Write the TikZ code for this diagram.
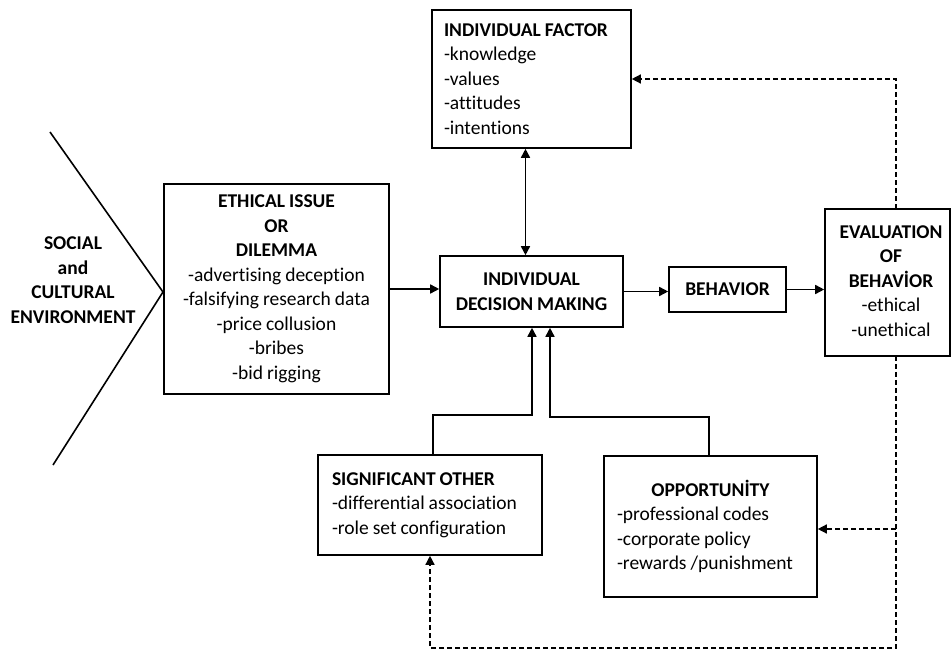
\documentclass[tikz,border=0pt]{standalone}
\usepackage{fontspec}
\setmainfont{Carlito}[Ligatures={NoCommon,NoRare,NoDiscretionary},WordSpace={0.9}]
\usetikzlibrary{arrows.meta}
\begin{document}
\begin{tikzpicture}[x=1pt,y=-1pt,
  every node/.style={font=\fontsize{19.5}{24.5}\selectfont},
  box/.style={draw, line width=1.6pt, inner sep=0pt},
  conn/.style={line width=1.6pt, -{Triangle[length=9pt,width=9pt]}},
  both/.style={line width=1.6pt, {Triangle[length=9pt,width=9pt]}-{Triangle[length=9pt,width=9pt]}},
  feedback/.style={line width=1.4pt, dash pattern=on 5pt off 3pt, -{Triangle[length=9pt,width=9pt]}},
  plain/.style={line width=1.6pt}]
\useasboundingbox (0,0) rectangle (951,652);

% environment chevron
\coordinate (envtop) at (50,132);
\coordinate (envtip) at (163,292);
\coordinate (envbot) at (53,465);
\draw[plain] (envtop) -- (envtip) -- (envbot);
\node[align=center] (env) at (73,280) {\textbf{SOCIAL}\\\textbf{and}\\\textbf{CULTURAL}\\\textbf{ENVIRONMENT}};

% boxes
\node[box, minimum width=225, minimum height=210, align=center] (issue) at (276.5,289)
  {\textbf{ETHICAL ISSUE}\\\textbf{OR}\\\textbf{DILEMMA}\\-advertising deception\\-falsifying research data\\-price collusion\\-bribes\\-bid rigging};

\node[box, minimum width=199, minimum height=138, text width=175, align=flush left] (indiv) at (531.5,79)
  {\textbf{INDIVIDUAL FACTOR}\\-knowledge\\-values\\-attitudes\\-intentions};

\node[box, minimum width=183, minimum height=71, align=center] (dm) at (531.5,291.5)
  {\textbf{INDIVIDUAL}\\\textbf{DECISION MAKING}};

\node[box, minimum width=117, minimum height=45] (beh) at (727.5,289.5) {\textbf{BEHAVIOR}};

\node[box, minimum width=125, minimum height=147] (eval) at (887.5,282.5) {};
\node[align=center] (evaltext) at (891,281)
  {\textbf{EVALUATION}\\\textbf{OF}\\\textbf{BEHAVİOR}\\-ethical\\-unethical};

\node[box, minimum width=224, minimum height=100, text width=196, align=flush left] (sig) at (430,505)
  {\textbf{SIGNIFICANT OTHER}\\-differential association\\-role set configuration};

\node[box, minimum width=213, minimum height=141, text width=187, align=flush left] (opp) at (710.5,526.5)
  {\makebox[\linewidth]{\textbf{OPPORTUNİTY}}\\-professional codes\\-corporate policy\\-rewards /punishment};

% main flow
\draw[conn] (issue.east) -- (issue.east -| dm.west);
\draw[conn] (dm.east) -- (dm.east -| beh.west);
\draw[conn] (beh.east) -- (beh.east -| eval.west);
\draw[both] ([xshift=-6pt]indiv.south) -- ([xshift=-6pt]dm.north);

% influences from below
\draw[conn] ([xshift=3pt]sig.north) -- ++(0,-39) -| ([xshift=0.5pt]dm.south);
\draw[conn] ([xshift=-1.5pt]opp.north) -- ++(0,-38) -| ([xshift=18.5pt]dm.south);

% feedback loops
\coordinate (railtop) at (896,209);
\coordinate (railbot) at (896,356);
\coordinate (railopp) at (896,529);
\coordinate (railend) at (430,648);
\draw[feedback] (railtop) |- (indiv.east);
\draw[feedback] (railbot) |- (railend) -- (sig.south);
\draw[feedback] (railopp) -- (railopp -| opp.east);
\end{tikzpicture}
\end{document}
